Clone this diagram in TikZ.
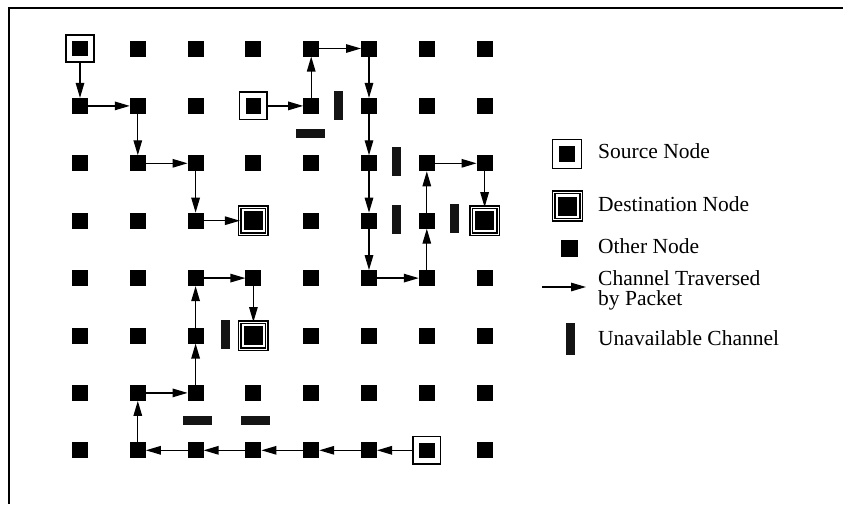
\documentclass[tikz,border=0pt]{standalone}
\usepackage{fontspec}
\setmainfont{Liberation Serif}
\usetikzlibrary{arrows.meta}
\tikzset{
  othernode/.style={rectangle, fill=black, minimum size=16pt, inner sep=0pt, outer sep=0pt},
  srcnode/.style={rectangle, draw=black, line width=1.6pt, fill=white, minimum size=27.5pt, inner sep=0pt, outer sep=0pt,
    path picture={\fill[black] ([shift={(-7.8pt,-7.8pt)}]path picture bounding box.center) rectangle ++(15.6pt,15.6pt);}},
  dstnode/.style={rectangle, draw=black, line width=1.4pt, double=white, double distance=1pt, fill=white, minimum size=27pt, inner sep=0pt, outer sep=0pt,
    path picture={\fill[black] ([shift={(-9.5pt,-9.5pt)}]path picture bounding box.center) rectangle ++(19pt,19pt);}},
  vbar/.style={rectangle, fill=black!92, minimum width=9pt, minimum height=29pt, inner sep=0pt},
  hbar/.style={rectangle, fill=black!92, minimum width=29pt, minimum height=9pt, inner sep=0pt},
  chan/.style={line width=1.35pt, -{Triangle[length=15pt,width=8.5pt]}},
  legtext/.style={anchor=base west, inner sep=0pt, font=\fontsize{21.5}{20}\selectfont, align=left},
}
\expandafter\def\csname src-0-0\endcsname{}
\expandafter\def\csname src-3-1\endcsname{}
\expandafter\def\csname src-6-7\endcsname{}
\expandafter\def\csname dst-3-3\endcsname{}
\expandafter\def\csname dst-7-3\endcsname{}
\expandafter\def\csname dst-3-5\endcsname{}
\begin{document}
\begin{tikzpicture}[x=1pt, y=-1pt]
\useasboundingbox (0,0) rectangle (843,504);
\fill[white] (0,0) rectangle (843,504);
% frame
\draw[line width=2pt] (843,7.5) -- (8.5,7.5) -- (8.5,504);
% grid nodes
\foreach \i in {0,...,7}{
  \foreach \j in {0,...,7}{
    \def\st{othernode}
    \ifcsname src-\i-\j\endcsname \def\st{srcnode}\fi
    \ifcsname dst-\i-\j\endcsname \def\st{dstnode}\fi
    \node[\st] (n-\i-\j) at ({80+57.8*\i},{48.5+57.4*\j}) {};
  }
}
% channels traversed
\foreach \a/\b in {0-0/0-1, 0-1/1-1, 1-1/1-2, 1-2/2-2, 2-2/2-3, 2-3/3-3,
  3-1/4-1, 4-1/4-0, 4-0/5-0, 5-0/5-1, 5-1/5-2, 5-2/5-3, 5-3/5-4, 5-4/6-4, 6-4/6-3, 6-3/6-2, 6-2/7-2, 7-2/7-3,
  6-7/5-7, 5-7/4-7, 4-7/3-7, 3-7/2-7, 2-7/1-7, 1-7/1-6, 1-6/2-6, 2-6/2-5, 2-5/2-4, 2-4/3-4, 3-4/3-5}
  \draw[chan] (n-\a) -- (n-\b);
% unavailable channels
\node[vbar] (u1) at (338.5,105.5) {};
\node[hbar] (u2) at (310,133.5) {};
\node[vbar] (u3) at (396,161.5) {};
\node[vbar] (u4) at (396,219) {};
\node[vbar] (u5) at (454,218.5) {};
\node[vbar] (u6) at (225,334.5) {};
\node[hbar] (u7) at (197,420.5) {};
\node[hbar] (u8) at (255,420.5) {};
% legend
\node[srcnode, minimum size=29pt] (lsrc) at (567,154) {};
\node[legtext] (tsrc) at (598,158.5) {Source Node};
\node[dstnode, minimum size=27.5pt] (ldst) at (567.5,206) {};
\node[legtext] (tdst) at (598,211) {Destination Node};
\node[othernode, minimum size=17pt] (loth) at (569.5,248.5) {};
\node[legtext] (toth) at (598,253.5) {Other Node};
\coordinate (la) at (542,287);
\coordinate (lb) at (586,287);
\draw[chan] (la) -- (lb);
\node[legtext] (tchan) at (598,305.5) {Channel Traversed\\by Packet};
\node[vbar, minimum height=32pt] (lbar) at (570.5,339) {};
\node[legtext] (tbar) at (598,345) {Unavailable Channel};
\end{tikzpicture}
\end{document}
